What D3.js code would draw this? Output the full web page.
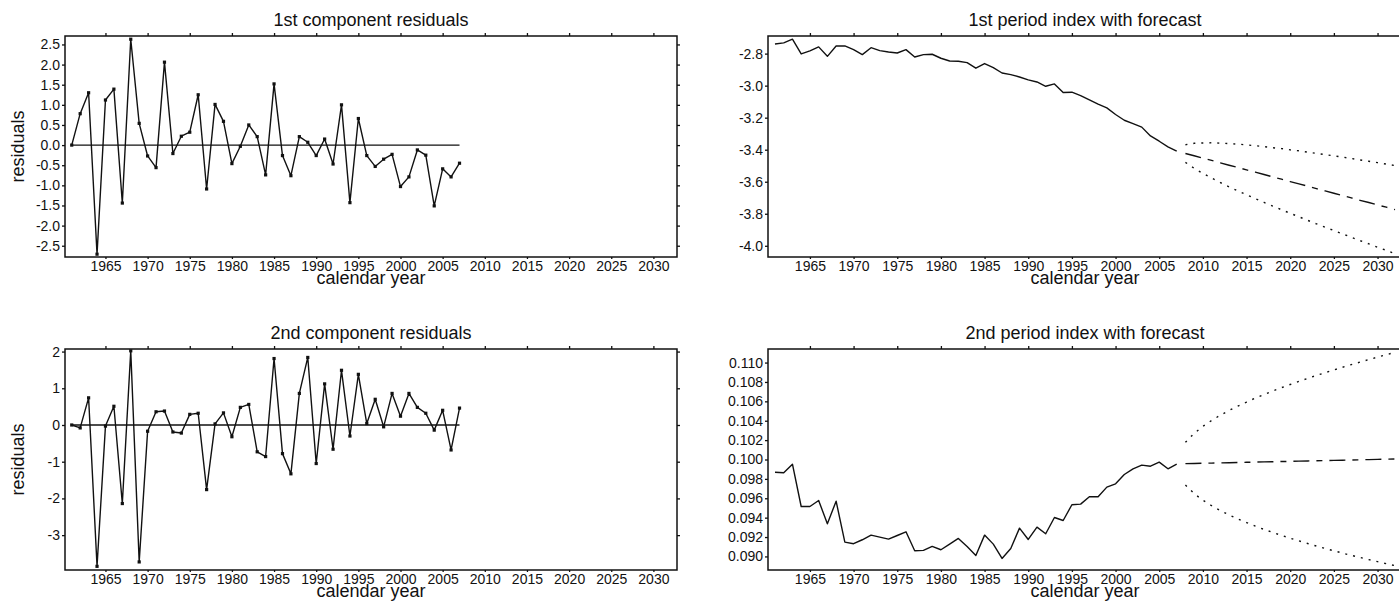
<!DOCTYPE html>
<html><head><meta charset="utf-8">
<script src="https://cdn.jsdelivr.net/npm/d3@7"></script>
<style>
body{margin:0;background:#fff}
svg{display:block}
text{font-family:"Liberation Sans",Arial,Helvetica,sans-serif;fill:#111}
</style>
</head><body><svg id="c" width="1399" height="601"></svg>
<script>
// ---------- data ----------
const histYears = [1961,1962,1963,1964,1965,1966,1967,1968,1969,1970,
  1971,1972,1973,1974,1975,1976,1977,1978,1979,1980,
  1981,1982,1983,1984,1985,1986,1987,1988,1989,1990,
  1991,1992,1993,1994,1995,1996,1997,1998,1999,2000,
  2001,2002,2003,2004,2005,2006,2007];
const fcYears = [2008,2009,2010,2011,2012,2013,2014,2015,2016,2017,
  2018,2019,2020,2021,2022,2023,2024,2025,2026,2027,
  2028,2029,2030,2031,2032];

const resid1 = [0.00,0.78,1.30,-2.71,1.12,1.39,-1.44,2.63,0.54,-0.27,
  -0.56,2.06,-0.21,0.22,0.32,1.25,-1.09,1.01,0.59,-0.46,
  -0.03,0.50,0.21,-0.74,1.52,-0.26,-0.76,0.21,0.07,-0.26,
  0.15,-0.47,1.00,-1.43,0.66,-0.26,-0.53,-0.35,-0.23,-1.03,
  -0.79,-0.12,-0.25,-1.51,-0.59,-0.79,-0.45];
const resid2 = [0.00,-0.08,0.74,-3.85,-0.03,0.51,-2.14,2.02,-3.73,-0.17,
  0.36,0.38,-0.19,-0.22,0.29,0.32,-1.76,0.03,0.33,-0.32,
  0.48,0.56,-0.73,-0.86,1.81,-0.78,-1.33,0.86,1.84,-1.05,
  1.12,-0.66,1.49,-0.30,1.38,0.04,0.70,-0.05,0.86,0.24,
  0.86,0.48,0.32,-0.14,0.40,-0.68,0.46];

const kt1 = [-2.740,-2.733,-2.710,-2.802,-2.783,-2.758,-2.817,-2.752,-2.752,-2.775,
  -2.806,-2.763,-2.781,-2.790,-2.796,-2.775,-2.821,-2.806,-2.804,-2.829,
  -2.846,-2.848,-2.856,-2.891,-2.862,-2.887,-2.921,-2.931,-2.946,-2.964,
  -2.977,-3.004,-2.989,-3.043,-3.041,-3.062,-3.089,-3.116,-3.139,-3.180,
  -3.216,-3.237,-3.259,-3.314,-3.347,-3.382,-3.409];
const kt1Mean = [-3.424,-3.438,-3.453,-3.467,-3.482,-3.497,-3.511,-3.526,-3.540,-3.555,
  -3.570,-3.584,-3.599,-3.613,-3.628,-3.643,-3.657,-3.672,-3.686,-3.701,
  -3.716,-3.730,-3.745,-3.759,-3.774];
const kt1Upper = [-3.369,-3.360,-3.358,-3.357,-3.359,-3.362,-3.365,-3.370,-3.375,-3.381,
  -3.388,-3.393,-3.401,-3.407,-3.415,-3.423,-3.430,-3.439,-3.446,-3.455,
  -3.464,-3.472,-3.481,-3.490,-3.499];
const kt1Lower = [-3.479,-3.516,-3.548,-3.577,-3.605,-3.632,-3.657,-3.682,-3.705,-3.729,
  -3.752,-3.775,-3.797,-3.819,-3.841,-3.863,-3.884,-3.905,-3.926,-3.947,
  -3.968,-3.988,-4.009,-4.028,-4.049];

const kt2 = [0.09869,0.09863,0.09952,0.09515,0.09515,0.09577,0.09337,0.09570,0.09148,0.09131,
  0.09172,0.09220,0.09199,0.09179,0.09216,0.09254,0.09058,0.09062,0.09103,0.09069,
  0.09127,0.09186,0.09103,0.09010,0.09220,0.09127,0.08979,0.09082,0.09292,0.09175,
  0.09302,0.09234,0.09402,0.09371,0.09533,0.09540,0.09615,0.09615,0.09715,0.09749,
  0.09845,0.09904,0.09942,0.09931,0.09973,0.09904,0.09952];
const kt2Mean = [0.09957,0.09959,0.09961,0.09963,0.09965,0.09967,0.09969,0.09971,0.09973,0.09975,
  0.09977,0.09979,0.09981,0.09983,0.09985,0.09987,0.09989,0.09991,0.09993,0.09995,
  0.09997,0.09999,0.10001,0.10003,0.10005];
const kt2Upper = [0.10177,0.10270,0.10342,0.10403,0.10457,0.10506,0.10551,0.10593,0.10633,0.10671,
  0.10707,0.10741,0.10774,0.10806,0.10837,0.10867,0.10896,0.10924,0.10952,0.10979,
  0.11005,0.11031,0.11056,0.11081,0.11105];
const kt2Lower = [0.09737,0.09648,0.09580,0.09523,0.09473,0.09428,0.09387,0.09349,0.09313,0.09279,
  0.09247,0.09217,0.09188,0.09160,0.09133,0.09107,0.09082,0.09058,0.09034,0.09011,
  0.08989,0.08967,0.08946,0.08925,0.08905];

const xTicks = [1965,1970,1975,1980,1985,1990,1995,2000,2005,2010,2015,2020,2025,2030];
const resid1Ticks = [-2.5,-2.0,-1.5,-1.0,-0.5,0.0,0.5,1.0,1.5,2.0,2.5];
const resid2Ticks = [-3,-2,-1,0,1,2];
const kt1Ticks = [-4.0,-3.8,-3.6,-3.4,-3.2,-3.0,-2.8];
const kt2Ticks = [0.090,0.092,0.094,0.096,0.098,0.100,0.102,0.104,0.106,0.108,0.110];

const titles = ["1st component residuals","1st period index with forecast",
                "2nd component residuals","2nd period index with forecast"];
const xLabel = "calendar year";
const yLabel = "residuals";

// ---------- drawing ----------
const svg = d3.select("#c");
const locale = d3.formatLocale({decimal:".",thousands:",",grouping:[3],currency:["",""],minus:"-"});
const xDomain = [1960.2, 2032.8];
const fs = 14, bigFs = 18;

function styleAxis(g){
  g.attr("font-size", null).attr("font-family", null);
  g.selectAll("text").style("font-size", fs+"px").attr("fill","#111");
  g.selectAll("line").attr("stroke","#111").attr("stroke-width",1.3);
  g.select(".domain").remove();
}

function panel(cfg){
  const x = d3.scaleLinear().domain(xDomain).range([cfg.x0, cfg.x1]);
  const y = d3.scaleLinear().domain(cfg.yDomain).range([cfg.y1, cfg.y0]);
  const g = svg.append("g");
  const fmt = locale.format(cfg.fmt);

  // axes
  g.append("g").attr("transform",`translate(${cfg.x0},0)`)
    .call(d3.axisLeft(y).tickValues(cfg.yTicks).tickSize(3).tickPadding(2).tickFormat(fmt))
    .call(styleAxis);
  if (cfg.rightAxis) {
    g.append("g").attr("transform",`translate(${cfg.x1},0)`)
      .call(d3.axisRight(y).tickValues(cfg.yTicks).tickSize(3).tickFormat(""))
      .call(styleAxis);
  }
  g.append("g").attr("transform",`translate(0,${cfg.y1})`)
    .call(d3.axisBottom(x).tickValues(xTicks).tickSize(2).tickPadding(2).tickFormat(d3.format("d")))
    .call(styleAxis);
  g.append("g").attr("transform",`translate(0,${cfg.y0})`)
    .call(d3.axisTop(x).tickValues(xTicks).tickSize(3).tickFormat(""))
    .call(styleAxis);

  // frame
  g.append("rect").attr("x",cfg.x0).attr("y",cfg.y0)
    .attr("width",cfg.x1-cfg.x0).attr("height",cfg.y1-cfg.y0)
    .attr("fill","none").attr("stroke","#111").attr("stroke-width",1.5);

  // texts
  g.append("text").attr("x",(cfg.x0+cfg.x1)/2).attr("y",cfg.y0-10)
    .attr("text-anchor","middle").style("font-size",bigFs+"px").text(cfg.title);
  g.append("text").attr("x",(cfg.x0+cfg.x1)/2).attr("y",cfg.y1+27)
    .attr("text-anchor","middle").style("font-size",bigFs+"px").text(xLabel);
  if (cfg.yLabel) {
    const cy = (cfg.y0+cfg.y1)/2;
    g.append("text").attr("transform",`translate(23.5,${cy}) rotate(-90)`)
      .attr("text-anchor","middle").style("font-size",bigFs+"px").text(cfg.yLabel);
  }

  const line = d3.line().x(d=>x(d[0])).y(d=>y(d[1]));
  const plot = g.append("g");
  cfg.series.forEach(s=>{
    const pts = s.years.map((yr,i)=>[yr, s.values[i]]);
    plot.append("path").datum(pts).attr("d",line)
      .attr("fill","none").attr("stroke","#111").attr("stroke-width",1.4)
      .attr("stroke-linejoin","round")
      .attr("stroke-dasharray", s.dash || null);
    if (s.markers) {
      plot.selectAll(null).data(pts).enter().append("rect")
        .attr("x",d=>x(d[0])-1.6).attr("y",d=>y(d[1])-1.6)
        .attr("width",3.2).attr("height",3.2).attr("fill","#111");
    }
  });
  if (cfg.zeroLine) {
    plot.append("line")
      .attr("x1",x(histYears[0])).attr("x2",x(histYears[histYears.length-1]))
      .attr("y1",y(0)).attr("y2",y(0))
      .attr("stroke","#111").attr("stroke-width",1.4);
  }
}

const L = {x0:65, x1:677}, R = {x0:768, x1:1402};
const T = {y0:36, y1:257}, B = {y0:349, y1:570};
const zerosHist = histYears.map(()=>0);

panel({...L, ...T, yDomain:[-2.78, 2.71], yTicks:resid1Ticks, fmt:".1f",
  title:titles[0], yLabel:yLabel, rightAxis:true, zeroLine:true,
  series:[{years:histYears, values:resid1, markers:true}]});
panel({...R, ...T, yDomain:[-4.07, -2.69], yTicks:kt1Ticks, fmt:".1f",
  title:titles[1], rightAxis:false,
  series:[{years:histYears, values:kt1},
          {years:fcYears, values:kt1Mean, dash:"16,7,6,7"},
          {years:fcYears, values:kt1Upper, dash:"2,6"},
          {years:fcYears, values:kt1Lower, dash:"2,6"}]});
panel({...L, ...B, yDomain:[-3.95, 2.07], yTicks:resid2Ticks, fmt:"d",
  title:titles[2], yLabel:yLabel, rightAxis:true, zeroLine:true,
  series:[{years:histYears, values:resid2, markers:true}]});
panel({...R, ...B, yDomain:[0.0886, 0.1114], yTicks:kt2Ticks, fmt:".3f",
  title:titles[3], rightAxis:false,
  series:[{years:histYears, values:kt2},
          {years:fcYears, values:kt2Mean, dash:"16,7,6,7"},
          {years:fcYears, values:kt2Upper, dash:"2,6"},
          {years:fcYears, values:kt2Lower, dash:"2,6"}]});
</script>
</body></html>
